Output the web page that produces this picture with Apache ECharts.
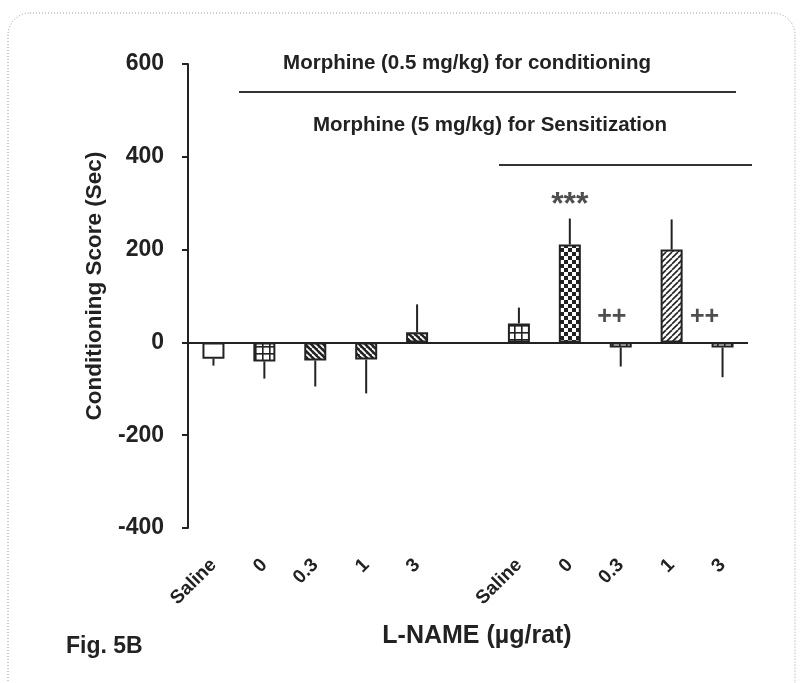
<!DOCTYPE html>
<html>
<head>
<meta charset="utf-8">
<script src="https://cdn.jsdelivr.net/npm/echarts@6/dist/echarts.min.js"></script>
<style>html,body{margin:0;padding:0;background:#fff}#c{width:801px;height:683px}</style>
</head>
<body>
<div id="c"></div>
<script>
// ---- data ----
var categories = ['Saline', '0', '0.3', '1', '3', '', 'Saline', '0', '0.3', '1', '3'];
var meanValues = [-35, -41, -39, -37, 22, '-', 41, 211, -11, 200, -11];
var semValues  = [15, 37, 56, 73, 60, '-', 34, 56, 41, 65, 64];
var annotationText = ['', '', '', '', '', '', '', '***', '++', '', '++'];
var annotationY    = ['-', '-', '-', '-', '-', '-', '-', 300, 54, '-', 54];
var yTicks = { min: -400, max: 600, interval: 200 };
var bracketTexts = ['Morphine (0.5 mg/kg) for conditioning', 'Morphine (5 mg/kg) for Sensitization'];

// ---- styles ----
var patternKeys = ['white', 'grid', 'diagBack', 'diagBack', 'diagBack', 'white', 'grid', 'checker', 'grid', 'diagFwd', 'grid'];
var annotationOffsetX = [0, 0, 0, 0, 0, 0, 0, 0, -9, 0, -18];
var INK = '#222';
var FONT = 'Liberation Sans, Arial, sans-serif';

function makePattern(type) {
  var c = document.createElement('canvas');
  var ctx;
  if (type === 'white') return '#ffffff';
  if (type === 'grid') {
    c.width = 7; c.height = 7; ctx = c.getContext('2d');
    ctx.fillStyle = '#fff'; ctx.fillRect(0, 0, 7, 7);
    ctx.fillStyle = INK; ctx.fillRect(3, 0, 1.6, 7); ctx.fillRect(0, 3, 7, 1.6);
  } else if (type === 'checker') {
    c.width = 8; c.height = 8; ctx = c.getContext('2d');
    ctx.fillStyle = '#fff'; ctx.fillRect(0, 0, 8, 8);
    ctx.fillStyle = INK; ctx.fillRect(0, 0, 4, 4); ctx.fillRect(4, 4, 4, 4);
  } else if (type === 'diagBack') {
    var s = 6; c.width = s; c.height = s; ctx = c.getContext('2d');
    ctx.fillStyle = INK; ctx.fillRect(0, 0, s, s);
    ctx.strokeStyle = '#fff'; ctx.lineWidth = 1.8;
    for (var k = -1; k <= 1; k++) { ctx.beginPath(); ctx.moveTo(k * s, 0); ctx.lineTo(k * s + s, s); ctx.stroke(); }
  } else if (type === 'diagFwd') {
    var t = 6; c.width = t; c.height = t; ctx = c.getContext('2d');
    ctx.fillStyle = '#fff'; ctx.fillRect(0, 0, t, t);
    ctx.strokeStyle = INK; ctx.lineWidth = 1.6;
    for (var j = -1; j <= 1; j++) { ctx.beginPath(); ctx.moveTo(j * t, t); ctx.lineTo(j * t + t, 0); ctx.stroke(); }
  }
  return { image: c, repeat: 'repeat' };
}

var barData = meanValues.map(function (v, i) {
  return { value: v, itemStyle: { color: makePattern(patternKeys[i]), borderColor: INK, borderWidth: 2 } };
});

var errData = [];
meanValues.forEach(function (m, i) {
  if (m === '-') return;
  var end = m >= 0 ? m + semValues[i] : m - semValues[i];
  errData.push([i, m, end]);
});

var annData = annotationY.map(function (v, i) {
  var big = annotationText[i] === '***';
  return {
    value: [i, v],
    label: { offset: [annotationOffsetX[i], big ? 2 : 0], fontSize: big ? 32 : 25 }
  };
});

var chart = echarts.init(document.getElementById('c'));
chart.setOption({
  animation: false,
  backgroundColor: '#fff',
  grid: { left: 188, right: 53, top: 64, bottom: 155, containLabel: false },
  xAxis: {
    type: 'category',
    data: categories,
    axisLine: { show: false, onZero: false },
    axisTick: { show: false },
    axisLabel: { rotate: 45, margin: 34, color: INK, fontFamily: FONT, fontWeight: 'bold', fontSize: 19, interval: 0 },
    name: 'L-NAME (µg/rat)',
    nameLocation: 'middle',
    nameGap: 96,
    nameTextStyle: { color: INK, fontFamily: FONT, fontWeight: 'bold', fontSize: 25, padding: [0, 0, 0, 18] }
  },
  yAxis: {
    type: 'value',
    min: yTicks.min, max: yTicks.max, interval: yTicks.interval,
    splitLine: { show: false },
    axisLine: { show: true, lineStyle: { color: INK, width: 2 } },
    axisTick: { show: true, length: 6, lineStyle: { color: INK, width: 2 } },
    axisLabel: { margin: 24, color: INK, fontFamily: FONT, fontWeight: 'bold', fontSize: 23 },
    name: 'Conditioning Score (Sec)',
    nameLocation: 'middle',
    nameGap: 82,
    nameTextStyle: { color: INK, fontFamily: FONT, fontWeight: 'bold', fontSize: 22.5, padding: [0, 0, 0, 20] }
  },
  series: [
    {
      type: 'bar',
      data: barData,
      barWidth: 22,
      z: 2,
      markLine: {
        silent: true,
        symbol: ['none', 'none'],
        label: { show: false },
        lineStyle: { color: INK, width: 2, type: 'solid' },
        data: [{ yAxis: 0 }]
      }
    },
    {
      type: 'custom',
      data: errData,
      z: 3,
      renderItem: function (params, api) {
        var p0 = api.coord([api.value(0), api.value(1)]);
        var p1 = api.coord([api.value(0), api.value(2)]);
        return { type: 'line', shape: { x1: p0[0], y1: p0[1], x2: p1[0], y2: p1[1] }, style: { stroke: INK, lineWidth: 2 } };
      }
    },
    {
      type: 'scatter',
      data: annData,
      symbolSize: 0,
      silent: true,
      label: {
        show: true,
        position: 'inside',
        formatter: function (p) { return annotationText[p.dataIndex]; },
        color: INK, fontFamily: FONT, fontWeight: 'bold', fontSize: 25
      }
    }
  ],
  graphic: [
    { type: 'rect', silent: true, shape: { x: 8, y: 13, width: 787, height: 690, r: 22 }, style: { fill: 'none', stroke: '#9a9a9a', lineWidth: 1, lineDash: [1, 2] } },
    { type: 'text', x: 467, y: 63, style: { text: bracketTexts[0], fill: INK, font: 'bold 20.5px ' + FONT, textAlign: 'center', textVerticalAlign: 'middle' } },
    { type: 'line', shape: { x1: 239, y1: 92, x2: 736, y2: 92 }, style: { stroke: '#333', lineWidth: 2 } },
    { type: 'text', x: 490, y: 125, style: { text: bracketTexts[1], fill: INK, font: 'bold 20.5px ' + FONT, textAlign: 'center', textVerticalAlign: 'middle' } },
    { type: 'line', shape: { x1: 499, y1: 165, x2: 752, y2: 165 }, style: { stroke: '#333', lineWidth: 2 } },
    { type: 'text', x: 66, y: 647, style: { text: 'Fig. 5B', fill: INK, font: 'bold 23px ' + FONT, textAlign: 'left', textVerticalAlign: 'middle' } }
  ]
});
</script>
</body>
</html>
